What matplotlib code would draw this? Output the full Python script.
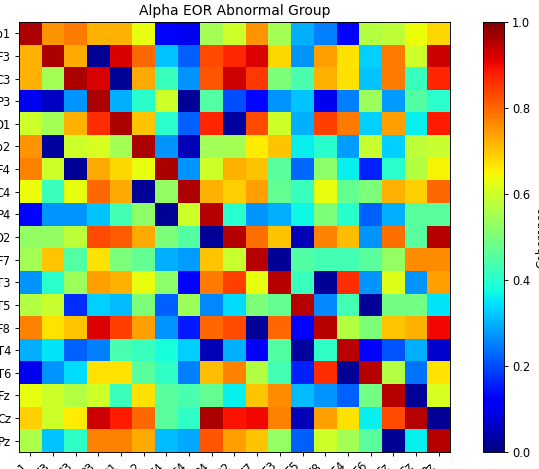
import numpy as np
from matplotlib import pyplot as plt

channels = ['Fp1', 'F3', 'C3', 'P3', 'O1', 'Fp2', 'F4', 'C4', 'P4', 'O2',
            'F7', 'T3', 'T5', 'F8', 'T4', 'T6', 'Fz', 'Cz', 'Pz']

# coherence values
row_fp1 = [0.96, 0.75, 0.78, 0.72, 0.72, 0.63, 0.12, 0.10, 0.55, 0.60, 0.75, 0.55, 0.30, 0.25, 0.12, 0.57, 0.58, 0.64, 0.68]
row_f3 = [0.72, 0.96, 0.73, 0.02, 0.92, 0.80, 0.32, 0.22, 0.83, 0.87, 0.92, 0.68, 0.27, 0.74, 0.67, 0.33, 0.78, 0.60, 0.93]
row_c3 = [0.72, 0.55, 0.96, 0.92, 0.02, 0.73, 0.42, 0.27, 0.82, 0.93, 0.85, 0.50, 0.44, 0.72, 0.67, 0.32, 0.78, 0.42, 0.87]
row_p3 = [0.10, 0.06, 0.27, 0.96, 0.30, 0.40, 0.60, 0.02, 0.45, 0.20, 0.13, 0.27, 0.32, 0.10, 0.25, 0.54, 0.28, 0.45, 0.40]
row_o1 = [0.60, 0.55, 0.72, 0.86, 0.96, 0.70, 0.40, 0.22, 0.87, 0.03, 0.83, 0.60, 0.30, 0.84, 0.78, 0.33, 0.74, 0.36, 0.88]
row_fp2 = [0.75, 0.03, 0.60, 0.61, 0.55, 0.96, 0.27, 0.05, 0.55, 0.55, 0.66, 0.70, 0.36, 0.40, 0.28, 0.59, 0.33, 0.58, 0.59]
row_f4 = [0.77, 0.60, 0.02, 0.73, 0.68, 0.63, 0.96, 0.27, 0.60, 0.72, 0.70, 0.46, 0.23, 0.52, 0.36, 0.16, 0.40, 0.57, 0.65]
row_c4 = [0.64, 0.42, 0.63, 0.80, 0.73, 0.02, 0.53, 0.96, 0.72, 0.69, 0.74, 0.47, 0.42, 0.63, 0.47, 0.50, 0.72, 0.69, 0.80]
row_p4 = [0.12, 0.27, 0.27, 0.32, 0.43, 0.52, 0.02, 0.60, 0.95, 0.40, 0.27, 0.30, 0.37, 0.50, 0.40, 0.22, 0.30, 0.46, 0.46]
row_o2 = [0.53, 0.53, 0.58, 0.83, 0.81, 0.73, 0.50, 0.45, 0.02, 0.95, 0.79, 0.70, 0.05, 0.77, 0.71, 0.27, 0.79, 0.46, 0.95]
row_f7 = [0.55, 0.70, 0.45, 0.67, 0.50, 0.47, 0.30, 0.28, 0.70, 0.59, 0.95, 0.02, 0.45, 0.43, 0.43, 0.46, 0.53, 0.76, 0.76]
row_t3 = [0.27, 0.40, 0.54, 0.74, 0.72, 0.63, 0.52, 0.12, 0.78, 0.84, 0.63, 0.95, 0.42, 0.02, 0.86, 0.27, 0.62, 0.27, 0.74]
row_t5 = [0.57, 0.59, 0.17, 0.33, 0.31, 0.50, 0.22, 0.54, 0.26, 0.34, 0.50, 0.47, 0.95, 0.26, 0.43, 0.02, 0.49, 0.49, 0.35]
row_f8 = [0.77, 0.67, 0.70, 0.92, 0.84, 0.74, 0.27, 0.15, 0.80, 0.83, 0.02, 0.80, 0.12, 0.95, 0.57, 0.50, 0.70, 0.72, 0.90]
row_t4 = [0.30, 0.35, 0.22, 0.25, 0.44, 0.42, 0.38, 0.33, 0.05, 0.30, 0.12, 0.45, 0.03, 0.41, 0.95, 0.12, 0.21, 0.30, 0.07]
row_t6 = [0.10, 0.27, 0.34, 0.67, 0.67, 0.46, 0.41, 0.25, 0.71, 0.77, 0.57, 0.43, 0.16, 0.86, 0.02, 0.95, 0.57, 0.24, 0.67]
row_fz = [0.63, 0.60, 0.57, 0.60, 0.42, 0.67, 0.46, 0.44, 0.47, 0.36, 0.70, 0.76, 0.31, 0.27, 0.22, 0.49, 0.95, 0.02, 0.61]
row_cz = [0.69, 0.60, 0.66, 0.93, 0.88, 0.80, 0.46, 0.41, 0.96, 0.89, 0.90, 0.77, 0.05, 0.74, 0.67, 0.36, 0.83, 0.95, 0.02]
row_pz = [0.56, 0.32, 0.41, 0.77, 0.77, 0.73, 0.31, 0.29, 0.82, 0.74, 0.70, 0.53, 0.22, 0.60, 0.55, 0.46, 0.02, 0.36, 0.95]

coherence = np.array([row_fp1, row_f3, row_c3, row_p3, row_o1, row_fp2, row_f4, row_c4,
                      row_p4, row_o2, row_f7, row_t3, row_t5, row_f8, row_t4, row_t6,
                      row_fz, row_cz, row_pz])

# the reference looks like a bigger figure shrunk down, so render at a low dpi
DPI = 83
fig = plt.figure(figsize=(539 / DPI, 469 / DPI), dpi=DPI)
ax = fig.add_axes([19 / 539, 17 / 469, 431 / 539, 430 / 469])
cax = fig.add_axes([483 / 539, 17 / 469, 21 / 539, 430 / 469])

im = ax.imshow(coherence, cmap='jet', vmin=0, vmax=1, aspect='auto')
ax.set_xticks(range(len(channels)))
ax.set_yticks(range(len(channels)))
ax.set_xticklabels(channels, rotation=45, ha='right')
ax.set_yticklabels(channels)
ax.set_title('Alpha EOR Abnormal Group')

cbar = fig.colorbar(im, cax=cax)
cbar.set_label('Coherence')

plt.savefig('out.png', dpi=DPI)
